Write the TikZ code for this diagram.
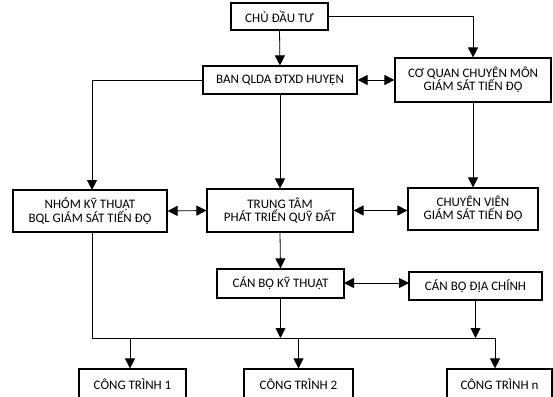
\documentclass[tikz,border=0pt]{standalone}
\usepackage{fontspec}
\setmainfont{Carlito}
\usetikzlibrary{arrows.meta,calc}
\begin{document}
\begin{tikzpicture}[x=1pt,y=-1pt,
  box/.style={draw=black,line width=1.2pt,rectangle,inner sep=0pt,align=center,
    font=\fontsize{13}{13.5}\selectfont},
  conn/.style={line width=0.8pt,-{Triangle[length=10pt,width=10pt]}},
  both/.style={line width=0.8pt,{Triangle[length=10pt,width=10pt]}-{Triangle[length=10pt,width=10pt]}},
  plain/.style={line width=0.8pt}]
\useasboundingbox (0,0) rectangle (553,396);
\node[box,minimum width=97pt,minimum height=27pt] (chu) at (279.5,16.5) {CHỦ ĐẦU TƯ};
\node[box,minimum width=154pt,minimum height=28pt] (ban) at (280,80) {BAN QLDA ĐTXD HUYỆN};
\node[box,minimum width=156pt,minimum height=44pt] (coquan) at (473,80) {CƠ QUAN CHUYÊN MÔN\\GIÁM SÁT TIẾN ĐỘ};
\node[box,minimum width=154pt,minimum height=42pt] (nhom) at (90,211) {NHÓM KỸ THUẬT\\BQL GIÁM SÁT TIẾN ĐỘ};
\node[box,minimum width=146pt,minimum height=43pt] (trung) at (280,210.5) {TRUNG TÂM\\PHÁT TRIỂN QUỸ ĐẤT};
\node[box,minimum width=130pt,minimum height=42pt] (cv) at (473,209) {CHUYÊN VIÊN\\GIÁM SÁT TIẾN ĐỘ};
\node[box,minimum width=127pt,minimum height=29pt] (cbkt) at (280.5,283.5) {CÁN BỘ KỸ THUẬT};
\node[box,minimum width=133pt,minimum height=28pt] (cbdc) at (475.5,286) {CÁN BỘ ĐỊA CHÍNH};
\node[box,minimum width=107pt,minimum height=31pt] (ct1) at (132.5,384.5) {CÔNG TRÌNH 1};
\node[box,minimum width=109pt,minimum height=31pt] (ct2) at (298.5,384.5) {CÔNG TRÌNH 2};
\node[box,minimum width=105pt,minimum height=31pt] (ctn) at (499.5,384.5) {CÔNG TRÌNH n};
\coordinate (busL) at (92,338);
\coordinate (busR) at (495,338);
\coordinate (busKT) at (cbkt.south |- busL);
\coordinate (busDC) at (cbdc.south |- busL);
\coordinate (bus1) at (130,338);
\coordinate (bus2) at (ct2.north |- busL);
\coordinate (nhomtop) at (92,190);
\coordinate (nhombot) at (92,232);
\coordinate (kta) at (344,283);
\coordinate (ktb) at (409,283);
% connectors
\draw[conn] (chu.south) -- (ban.north);
\draw[conn] (chu.east) -| (coquan.north);
\draw[both] (ban.east) -- (coquan.west);
\draw[conn] (ban.west) -| (nhomtop);
\draw[conn] (ban.south) -- (trung.north);
\draw[conn] (coquan.south) -- (cv.north);
\draw[both] (nhom.east) -- (trung.west);
\draw[both] (trung.east) -- (trung.east -| cv.west);
\draw[conn] (trung.south) -- (cbkt.north);
\draw[both] (kta) -- (ktb);
\draw[conn] (cbkt.south) -- (busKT);
\draw[conn] (cbdc.south) -- (busDC);
\draw[plain] (nhombot) -- (busL) -- (busR);
\draw[conn] (busR) -- (busR |- ctn.north);
\draw[conn] (bus1) -- (bus1 |- ct1.north);
\draw[conn] (bus2) -- (ct2.north);
\end{tikzpicture}
\end{document}
